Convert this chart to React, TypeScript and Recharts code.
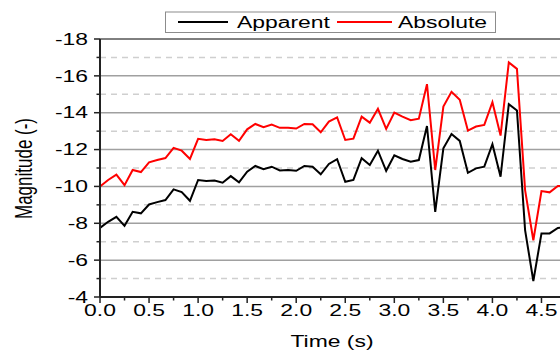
import { LineChart, Line, XAxis, YAxis, ReferenceLine } from 'recharts'

const TIME = [
  0, 0.083, 0.167, 0.25, 0.333, 0.417, 0.5, 0.583, 0.667, 0.75, 0.833, 0.917,
  1.0, 1.083, 1.167, 1.25, 1.333, 1.417, 1.5, 1.583, 1.667, 1.75, 1.833, 1.917,
  2.0, 2.083, 2.167, 2.25, 2.333, 2.417, 2.5, 2.583, 2.667, 2.75, 2.833, 2.917,
  3.0, 3.083, 3.167, 3.25, 3.333, 3.417, 3.5, 3.583, 3.667, 3.75, 3.833, 3.917,
  4.0, 4.083, 4.167, 4.25, 4.333, 4.417, 4.5, 4.583, 4.667, 4.75,
]

const APPARENT = [
  -7.75, -8.08, -8.35, -7.86, -8.62, -8.54, -9.02, -9.15, -9.26, -9.84, -9.69, -9.22,
  -10.35, -10.29, -10.32, -10.2, -10.56, -10.22, -10.8, -11.11, -10.93, -11.07, -10.87, -10.89,
  -10.85, -11.11, -11.07, -10.66, -11.22, -11.48, -10.25, -10.35, -11.53, -11.16, -11.94, -10.85,
  -11.69, -11.49, -11.34, -11.43, -13.28, -8.62, -12.07, -12.84, -12.47, -10.74, -10.98, -11.07,
  -12.29, -10.53, -14.46, -14.12, -7.63, -4.87, -7.45, -7.45, -7.75, -7.8,
]

const ABSOLUTE = [
  -10.0, -10.35, -10.64, -10.07, -10.89, -10.78, -11.31, -11.43, -11.54, -12.09, -11.94, -11.49,
  -12.58, -12.52, -12.56, -12.47, -12.83, -12.48, -13.1, -13.39, -13.21, -13.36, -13.18, -13.18,
  -13.14, -13.39, -13.37, -12.94, -13.52, -13.75, -12.52, -12.59, -13.79, -13.46, -14.21, -13.12,
  -14.01, -13.79, -13.59, -13.68, -15.55, -10.89, -14.33, -15.13, -14.7, -13.03, -13.25, -13.34,
  -14.57, -12.76, -16.73, -16.38, -9.8, -7.08, -9.75, -9.68, -10.02, -10.05,
]

const X_MAJOR = [0, 0.5, 1, 1.5, 2, 2.5, 3, 3.5, 4, 4.5]
const X_MINOR = [0.25, 0.75, 1.25, 1.75, 2.25, 2.75, 3.25, 3.75, 4.25]
const Y_MAJOR = [-18, -16, -14, -12, -10, -8, -6, -4]
const Y_MINOR = [-17, -15, -13, -11, -9, -7, -5]
const GRID_SOLID = [-16, -14, -12, -10, -8, -6]

const data = TIME.map((t, i) => ({ t, apparent: APPARENT[i], absolute: ABSOLUTE[i] }))
const xTicks = [...X_MAJOR, ...X_MINOR].sort((a, b) => a - b)
const yTicks = [...Y_MAJOR, ...Y_MINOR].sort((a, b) => a - b)

const FONT = '"Liberation Sans", Arial, sans-serif'
const SX = 1.43

function XTick(props: any) {
  const { x, y, payload } = props
  const major = X_MAJOR.includes(payload.value)
  return (
    <g>
      <line x1={x} x2={x} y1={y} y2={y + (major ? 6 : 3.5)} stroke="#222" strokeWidth={1.5} />
      {major && (
        <text transform={`translate(${x},${y + 18.5}) scale(${SX},1)`} textAnchor="middle"
          fontSize={16} fontFamily={FONT} fill="#000">
          {payload.value.toFixed(1)}
        </text>
      )}
    </g>
  )
}

function YTick(props: any) {
  const { x, y, payload } = props
  const major = Y_MAJOR.includes(payload.value)
  return (
    <g>
      <line x1={x - (major ? 6 : 3.5)} x2={x} y1={y} y2={y} stroke="#222" strokeWidth={1.5} />
      {major && (
        <text transform={`translate(${x - 12},${y + 5.7}) scale(${SX},1)`} textAnchor="end"
          fontSize={16} fontFamily={FONT} fill="#000">
          {payload.value}
        </text>
      )}
    </g>
  )
}

export default function App() {
  return (
    <div style={{ position: 'fixed', left: 0, top: 0, width: 560, height: 351, overflow: 'hidden', background: '#fff' }}>
      <LineChart width={580} height={351} data={data} margin={{ top: 39, right: 14, bottom: 0, left: 0 }}>
        {GRID_SOLID.map((v) => (
          <ReferenceLine key={'s' + v} y={v} stroke="#a0a0a0" strokeWidth={1.5} />
        ))}
        {Y_MINOR.map((v) => (
          <ReferenceLine key={'d' + v} y={v} stroke="#cfcfcf" strokeWidth={1.5} strokeDasharray="6 5" />
        ))}
        <ReferenceLine y={-18} stroke="#000" strokeWidth={1} />
        <XAxis type="number" dataKey="t" domain={[0, 4.75]} ticks={xTicks} interval={0}
          height={54} tickSize={0} tickMargin={0} tickLine={false}
          axisLine={{ stroke: '#222', strokeWidth: 2 }} tick={<XTick />} />
        <YAxis type="number" domain={[-18, -4]} reversed ticks={yTicks} interval={0}
          width={100} tickSize={0} tickMargin={0} tickLine={false}
          axisLine={{ stroke: '#222', strokeWidth: 2 }} tick={<YTick />} />
        <Line type="linear" dataKey="apparent" stroke="#000" strokeWidth={2} dot={false} isAnimationActive={false} />
        <Line type="linear" dataKey="absolute" stroke="#ff0000" strokeWidth={2} dot={false} isAnimationActive={false} />
      </LineChart>
      <svg width={560} height={351} style={{ position: 'absolute', left: 0, top: 0, pointerEvents: 'none' }}>
        <rect x={165.5} y={12} width={330} height={20.5} fill="#fff" stroke="#8c8c8c" strokeWidth={1} />
        <line x1={178} x2={228} y1={22} y2={22} stroke="#000" strokeWidth={2} />
        <text transform={`translate(237,28.3) scale(${SX},1)`} fontSize={16} fontFamily={FONT} fill="#000">Apparent</text>
        <line x1={337} x2={392} y1={22} y2={22} stroke="#ff0000" strokeWidth={2} />
        <text transform={`translate(398,28.3) scale(${SX},1)`} fontSize={16} fontFamily={FONT} fill="#000">Absolute</text>
        <text transform={`translate(332,347) scale(${SX},1)`} textAnchor="middle" fontSize={16} fontFamily={FONT} fill="#000">Time (s)</text>
        <text transform={`translate(31.5,168.5) scale(${SX},1) rotate(-90)`} textAnchor="middle" fontSize={17} fontFamily={FONT} fill="#000">Magnitude (-)</text>
      </svg>
    </div>
  )
}
